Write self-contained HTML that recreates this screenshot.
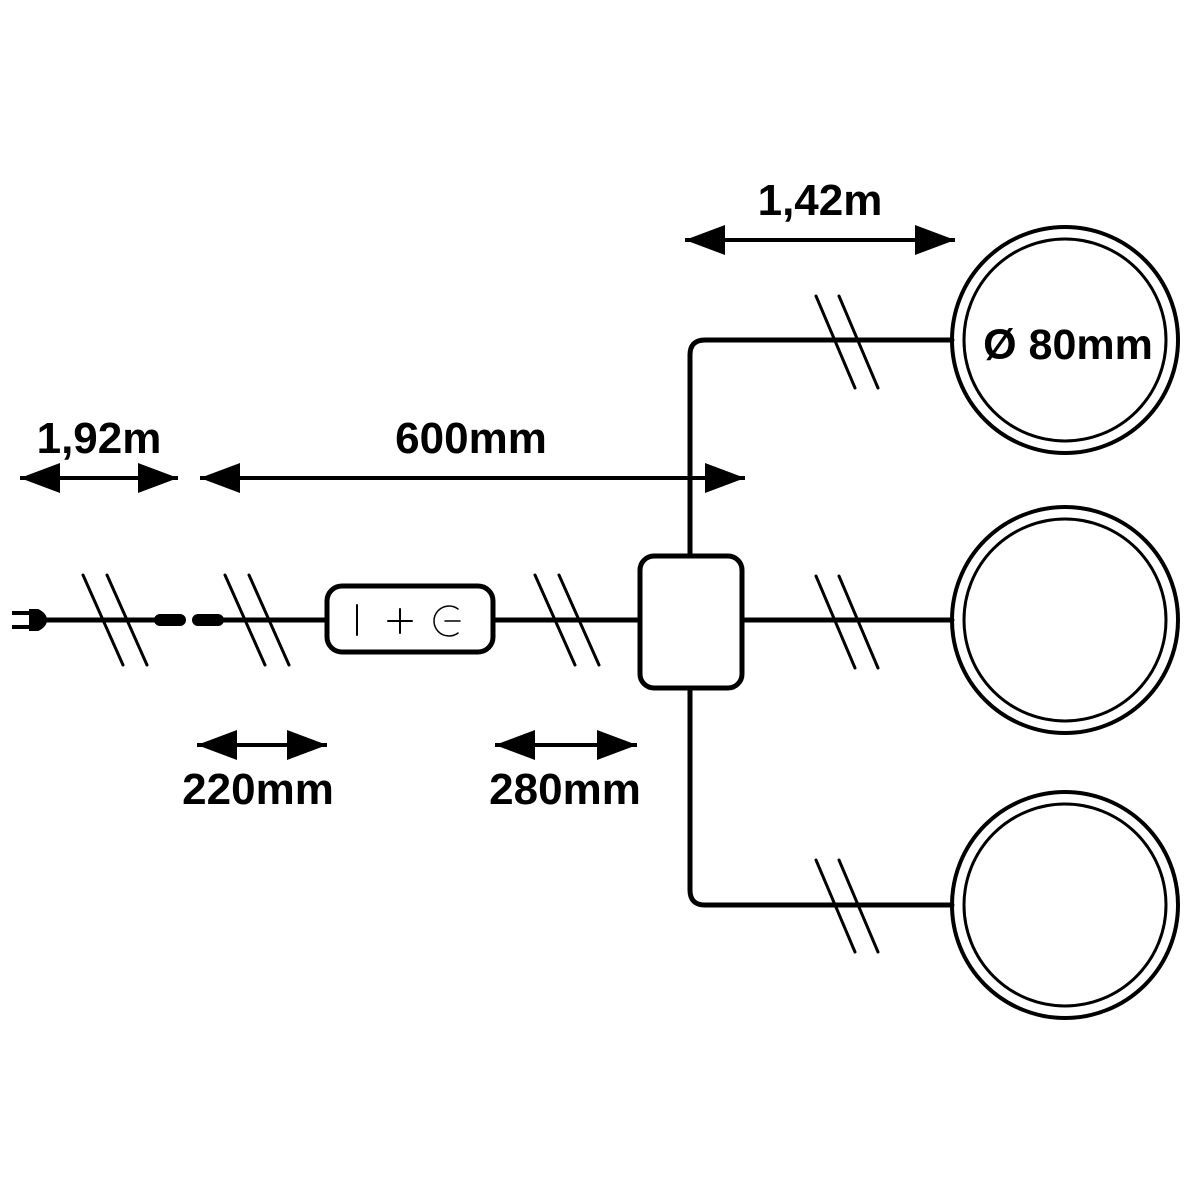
<!DOCTYPE html>
<html><head><style>body{margin:0;background:#fff}svg{display:block}</style></head><body>
<svg width="1200" height="1200" viewBox="0 0 1200 1200" xmlns="http://www.w3.org/2000/svg">
<defs>
<marker id="ah" viewBox="0 0 40 30" refX="40" refY="15" markerWidth="40" markerHeight="30" markerUnits="userSpaceOnUse" orient="auto-start-reverse"><path d="M0,0 L40,15 L0,30 Z" fill="#000"/></marker>
</defs>
<g fill="none" stroke="#000" stroke-linecap="round">
<path d="M45,620 H165 M208,620 H330 M492,620 H640 M742,620 H952" stroke-width="5"/>
<path d="M690,555 V355 Q690,340 705,340 H952 M690,688 V890 Q690,905 705,905 H952" stroke-width="5"/>
<path d="M160,620 H180 M198,620 H218" stroke-width="12" stroke-linecap="round"/>
<path d="M12,613 H30 M12,627 H30" stroke-width="4" stroke-linecap="butt"/>
<path d="M30,610 H38 Q46,614 46,620 Q46,626 38,630 H30 Z" fill="#000" stroke-width="2"/>
<g stroke-width="3">
<path d="M83,575 L123,665 M107,575 L147,665"/>
<path d="M225,575 L265,665 M249,575 L289,665"/>
<path d="M535,575 L575,665 M559,575 L599,665"/>
<path d="M816,296 L855,388 M839,296 L878,388"/>
<path d="M816,576 L855,668 M839,576 L878,668"/>
<path d="M816,860 L855,952 M839,860 L878,952"/>
</g>
<rect x="327" y="586" width="166" height="66" rx="15" stroke-width="5" fill="#fff"/>
<path d="M357,605 V635 M388,621 H412 M400,609 V633" stroke-width="2"/>
<path d="M458,609 A15,15 0 1 0 458,633 M445,621 H460" stroke-width="1.5"/>
<rect x="640" y="556" width="102" height="132" rx="14" stroke-width="5" fill="#fff"/>
<g stroke-width="4">
<circle cx="1065" cy="340" r="113"/><circle cx="1065" cy="340" r="101" stroke-width="3"/>
<circle cx="1065" cy="620" r="113"/><circle cx="1065" cy="620" r="101" stroke-width="3"/>
<circle cx="1065" cy="905" r="113"/><circle cx="1065" cy="905" r="101" stroke-width="3"/>
</g>
<g stroke-width="4" stroke-linecap="butt" marker-start="url(#ah)" marker-end="url(#ah)">
<line x1="20" y1="478" x2="178" y2="478"/>
<line x1="200" y1="478" x2="745" y2="478"/>
<line x1="685" y1="240" x2="955" y2="240"/>
<line x1="197" y1="745" x2="327" y2="745"/>
<line x1="495" y1="745" x2="637" y2="745"/>
</g>
</g>
<g font-family="Liberation Sans, sans-serif" font-weight="bold" font-size="44" text-anchor="middle" fill="#000">
<text x="99" y="453">1,92m</text>
<text x="471" y="453">600mm</text>
<text x="820" y="215">1,42m</text>
<text x="258" y="804">220mm</text>
<text x="565" y="804">280mm</text>
<text x="1068" y="359" font-size="43">Ø 80mm</text>
</g>
</svg>
</body></html>
